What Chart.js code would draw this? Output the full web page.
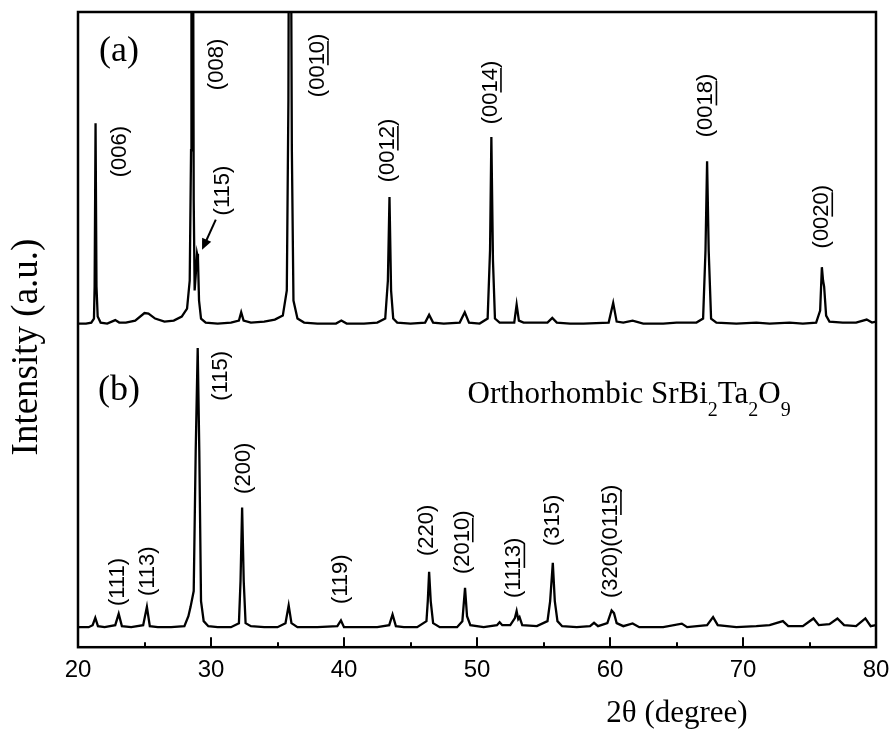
<!DOCTYPE html>
<html>
<head>
<meta charset="utf-8">
<title>XRD SrBi2Ta2O9</title>
<script src="https://cdn.jsdelivr.net/npm/chart.js@4.4.0/dist/chart.umd.min.js"></script>
<style>
    html, body { margin: 0; padding: 0; background: #fff; }
    #wrap { width: 893px; height: 738px; }
</style>
</head>
<body>
<div id="wrap"><canvas id="xrd-chart" width="893" height="738"></canvas></div>
<script>
// Pattern (a): c-axis oriented film
const twoThetaA = [
    20.0, 20.6, 21.0, 21.2, 21.25, 21.32, 21.39, 21.48, 21.7, 22.2, 22.8, 23.1, 23.6, 24.3, 25.0, 25.3,
    25.8, 26.5, 27.2, 27.8, 28.2, 28.4, 28.5, 28.53, 28.64, 28.7, 28.77, 28.85, 28.95, 29.02, 29.1, 29.25,
    29.6, 30.5, 31.5, 32.1, 32.27, 32.45, 33.0, 34.0, 34.8, 35.4, 35.7, 35.82, 35.87, 35.99, 36.08, 36.2,
    36.5, 37.0, 38.0, 39.4, 39.8, 40.2, 41.5, 42.5, 43.1, 43.3, 43.42, 43.54, 43.7, 44.0, 45.0, 46.1,
    46.4, 46.7, 47.5, 48.7, 49.08, 49.4, 50.2, 50.8, 50.98, 51.08, 51.2, 51.35, 51.7, 52.8, 52.98, 53.15,
    53.5, 55.3, 55.66, 56.0, 57.0, 58.0, 59.9, 60.24, 60.5, 61.0, 61.7, 62.5, 64.0, 65.0, 66.5, 67.0,
    67.18, 67.3, 67.42, 67.6, 68.0, 69.5, 71.0, 72.0, 73.5, 74.5, 75.5, 75.8, 75.93, 76.02, 76.1, 76.25,
    76.5, 77.5, 78.5, 79.3, 79.7, 80.0
];
const countsA = [
    323, 323, 324, 328, 360, 523, 360, 330, 324, 323, 326.5, 324, 324, 326, 333.5, 333,
    328, 325, 326, 330, 338, 366, 496, 800, 800, 446, 356, 371, 392.7, 388, 346, 328,
    324, 323, 324, 326, 334.3, 326, 324, 325, 327, 331, 356, 546, 800, 800, 496, 346,
    328, 324, 323, 323, 326, 323, 323, 324, 328, 366, 449.3, 356, 328, 324, 323, 324,
    331.7, 324, 323, 324, 334.3, 324, 323, 328, 396, 509.3, 386, 328, 324, 324, 342, 326,
    324, 324, 328.7, 324, 323, 323, 324, 343.7, 325, 324, 326, 323, 323, 324, 324, 328,
    396, 485, 396, 328, 324, 323, 324, 323, 324, 323, 324, 336, 379.3, 366, 360, 331,
    325, 324, 324, 327, 324, 325
];

// Pattern (b): randomly oriented powder
const twoThetaB = [
    20.0, 20.8, 21.1, 21.3, 21.5, 22.0, 22.8, 23.06, 23.3, 24.0, 24.9, 25.18, 25.4, 26.0, 27.0, 28.0,
    28.3, 28.46, 28.7, 28.85, 29.0, 29.12, 29.25, 29.45, 29.8, 30.5, 31.5, 32.1, 32.22, 32.34, 32.46, 32.6,
    33.0, 34.0, 35.0, 35.6, 35.84, 36.05, 36.5, 38.0, 39.5, 39.77, 40.0, 41.0, 42.5, 43.4, 43.65, 43.9,
    44.5, 45.5, 46.2, 46.3, 46.4, 46.52, 46.7, 47.2, 48.5, 48.9, 49.1, 49.25, 49.5, 50.5, 51.5, 51.7,
    51.9, 52.5, 52.85, 52.98, 53.1, 53.2, 53.4, 54.5, 55.3, 55.5, 55.7, 55.85, 56.05, 56.4, 57.5, 58.5,
    58.8, 59.1, 59.8, 60.12, 60.3, 60.5, 61.0, 61.7, 62.2, 64.0, 65.4, 65.8, 67.3, 67.75, 68.1, 69.5,
    71.0, 72.0, 73.0, 73.4, 74.5, 75.3, 75.7, 76.5, 77.1, 77.6, 78.5, 79.2, 79.6, 80.0
];
const countsB = [
    20, 20, 22, 29.3, 21, 20, 22, 33.3, 21, 20, 22, 40.3, 21, 20, 20, 21,
    31, 40, 56, 196, 298.7, 196, 46, 26, 21, 20, 20, 24, 66, 139.3, 66, 24,
    21, 20, 20, 24, 41.7, 24, 20, 20, 21, 26.7, 20, 20, 20, 22, 32.7, 21,
    20, 20, 26, 46, 75.3, 46, 24, 20, 20, 26, 59.3, 31, 22, 20, 22, 25,
    22, 22, 29, 36, 28, 30, 22, 21, 26, 46, 84.3, 46, 26, 21, 20, 21,
    24.3, 21, 24, 36.7, 34, 24, 21, 23.7, 20, 20, 23.5, 20, 22, 30, 22, 20,
    21, 22, 26, 21, 21, 28.7, 22, 23, 28.7, 22, 21, 28.7, 21, 22
];

const xTicks = [20, 30, 40, 50, 60, 70, 80];
const xMinorTicks = [25, 35, 45, 55, 65, 75];

// Miller indices: text, underlined part, 2theta, intensity at the lower end of the label
const hklA = ['(006)', '(008)', '(0010)', '(115)', '(0012)', '(0014)', '(0018)', '(0020)'];
const hklAUnder = ['', '', '10', '', '12', '14', '18', '20'];
const hklAPos = [[23.15, 469], [30.41, 556], [38.04, 549], [30.9, 431], [43.3, 464], [51.05, 522], [67.25, 509], [75.96, 398]];

const hklB = ['(111)', '(113)', '(115)', '(200)', '(119)', '(220)', '(2010)', '(1113)', '(315)', '(320)(0115)'];
const hklBUnder = ['', '', '', '', '', '', '10', '13', '', '15'];
const hklBPos = [[23.03, 41], [25.28, 51], [30.78, 246], [32.48, 153], [39.8, 43], [46.23, 91], [48.93, 73], [52.81, 49], [55.69, 101], [60.07, 49]];

const SANS = '"Liberation Sans", Arial, sans-serif';
const SERIF = '"Liberation Serif", "Times New Roman", serif';

function toPoints(xs, ys) {
    return xs.map((v, i) => ({ x: v, y: ys[i] }));
}

function drawHkl(ctx, text, under, px, py) {
    ctx.save();
    ctx.translate(px, py);
    ctx.rotate(-Math.PI / 2);
    ctx.font = '22px ' + SANS;
    ctx.textAlign = 'left';
    ctx.textBaseline = 'middle';
    ctx.fillText(text, 0, 0);
    if (under) {
        const idx = text.lastIndexOf(under);
        const start = ctx.measureText(text.slice(0, idx)).width;
        const w = ctx.measureText(under).width;
        ctx.lineWidth = 1.6;
        ctx.beginPath();
        ctx.moveTo(start, 10);
        ctx.lineTo(start + w, 10);
        ctx.stroke();
    }
    ctx.restore();
}

const decorPlugin = {
    id: 'xrdDecor',
    afterDatasetsDraw(chart) {
        const { ctx, chartArea: area, scales: { x, y } } = chart;
        ctx.save();
        ctx.fillStyle = '#000';
        ctx.strokeStyle = '#000';

        // frame
        ctx.lineWidth = 2.5;
        ctx.strokeRect(area.left, area.top, area.right - area.left, area.bottom - area.top);

        // inward ticks on the bottom axis
        ctx.lineWidth = 2;
        ctx.beginPath();
        xTicks.forEach(t => {
            const px = Math.round(x.getPixelForValue(t));
            ctx.moveTo(px, area.bottom);
            ctx.lineTo(px, area.bottom - 10);
        });
        xMinorTicks.forEach(t => {
            const px = Math.round(x.getPixelForValue(t));
            ctx.moveTo(px, area.bottom);
            ctx.lineTo(px, area.bottom - 5);
        });
        ctx.stroke();

        // hkl labels
        hklA.forEach((t, i) => drawHkl(ctx, t, hklAUnder[i], x.getPixelForValue(hklAPos[i][0]), y.getPixelForValue(hklAPos[i][1])));
        hklB.forEach((t, i) => drawHkl(ctx, t, hklBUnder[i], x.getPixelForValue(hklBPos[i][0]), y.getPixelForValue(hklBPos[i][1])));

        // arrow to the (115) reflection in pattern (a)
        const x0 = x.getPixelForValue(30.36), y0 = y.getPixelForValue(426.7);
        const x1 = x.getPixelForValue(29.33), y1 = y.getPixelForValue(396.7);
        const ang = Math.atan2(y1 - y0, x1 - x0);
        ctx.lineWidth = 2;
        ctx.beginPath();
        ctx.moveTo(x0, y0);
        ctx.lineTo(x1 - 8 * Math.cos(ang), y1 - 8 * Math.sin(ang));
        ctx.stroke();
        ctx.beginPath();
        ctx.moveTo(x1, y1);
        ctx.lineTo(x1 - 11 * Math.cos(ang) + 5 * Math.sin(ang), y1 - 11 * Math.sin(ang) - 5 * Math.cos(ang));
        ctx.lineTo(x1 - 11 * Math.cos(ang) - 5 * Math.sin(ang), y1 - 11 * Math.sin(ang) + 5 * Math.cos(ang));
        ctx.closePath();
        ctx.fill();

        // panel letters
        ctx.font = '36px ' + SERIF;
        ctx.textAlign = 'center';
        ctx.textBaseline = 'alphabetic';
        ctx.fillText('(a)', x.getPixelForValue(23.08), y.getPixelForValue(585));
        ctx.fillText('(b)', x.getPixelForValue(23.08), y.getPixelForValue(247));

        // phase name with subscripts
        const parts = [['Orthorhombic SrBi', false], ['2', true], ['Ta', false], ['2', true], ['O', false], ['9', true]];
        let cx = x.getPixelForValue(49.29);
        const base = y.getPixelForValue(244);
        ctx.textAlign = 'left';
        parts.forEach(([s, sub]) => {
            ctx.font = (sub ? '20px ' : '31px ') + SERIF;
            ctx.fillText(s, cx, sub ? base + 13 : base);
            cx += ctx.measureText(s).width;
        });

        // axis titles
        ctx.font = '31px ' + SERIF;
        ctx.textAlign = 'center';
        ctx.fillText('2\u03b8 (degree)', 677, 722);
        ctx.font = '37px ' + SERIF;
        ctx.save();
        ctx.translate(37, 347);
        ctx.rotate(-Math.PI / 2);
        ctx.fillText('Intensity (a.u.)', 0, 0);
        ctx.restore();

        ctx.restore();
    }
};

const lineStyle = {
    borderColor: '#000',
    borderWidth: 2.3,
    pointRadius: 0,
    tension: 0,
    fill: false
};

new Chart(document.getElementById('xrd-chart'), {
    type: 'line',
    data: {
        datasets: [
            Object.assign({ label: '(a)', data: toPoints(twoThetaA, countsA) }, lineStyle),
            Object.assign({ label: '(b)', data: toPoints(twoThetaB, countsB) }, lineStyle)
        ]
    },
    options: {
        responsive: false,
        animation: false,
        devicePixelRatio: 1,
        layout: { padding: { left: 78, right: 17, top: 12, bottom: 52 } },
        plugins: {
            legend: { display: false },
            tooltip: { enabled: false }
        },
        scales: {
            x: {
                type: 'linear',
                min: 20,
                max: 80,
                grid: { display: false },
                border: { display: false },
                ticks: {
                    stepSize: 10,
                    padding: 1,
                    color: '#000',
                    font: { family: SANS, size: 24 }
                }
            },
            y: {
                display: false,
                min: 0,
                max: 634
            }
        }
    },
    plugins: [decorPlugin]
});
</script>
</body>
</html>
